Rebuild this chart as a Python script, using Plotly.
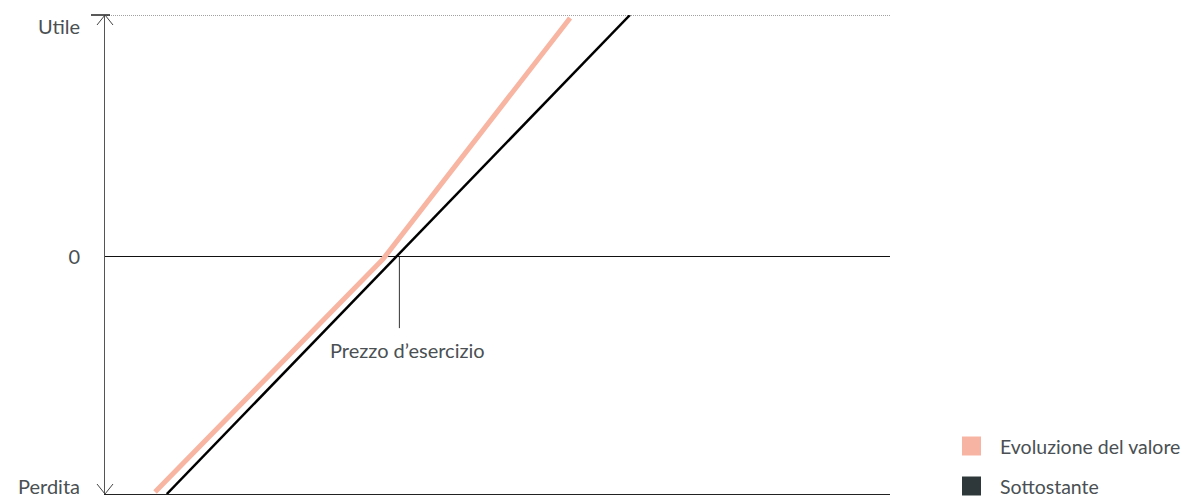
import plotly.graph_objects as go

# schematic payoff data (arbitrary units)
strike = 60
y_min, y_max = -48.3, 49.3

sottostante_x = [12.6, 107.0]
sottostante_y = [-48.3, 49.3]

evoluzione_x = [10.2, 56.7, 94.8]
evoluzione_y = [-47.9, -0.4, 48.7]

y_tick_vals = [-46.9, 0, 46.9]
y_tick_text = ["Perdita", "0", "Utile"]

legend_names = ["Evoluzione del valore", "Sottostante"]
legend_colors = ["#f8b4a3", "#2e383b"]

text_color = "#4a5053"

fig = go.Figure()

fig.add_trace(go.Scatter(
    x=evoluzione_x, y=evoluzione_y, mode="lines",
    line=dict(color="#f7b5a2", width=5), showlegend=False, hoverinfo="skip",
))
fig.add_trace(go.Scatter(
    x=sottostante_x, y=sottostante_y, mode="lines",
    line=dict(color="#000000", width=2.5), showlegend=False, hoverinfo="skip",
))

# legend drawn by hand: square + label, rows stacked from the bottom
for i, (name, col) in enumerate(zip(legend_names, legend_colors)):
    row_y = 48 - 40 * i  # pixel offset of the row centre above the x axis
    fig.add_shape(type="rect", xref="paper", yref="paper",
                  xsizemode="pixel", ysizemode="pixel", xanchor=1, yanchor=0,
                  x0=72, x1=91, y0=row_y - 9.5, y1=row_y + 9.5,
                  fillcolor=col, line=dict(width=0))
    fig.add_annotation(xref="paper", yref="paper", x=1, y=0, xshift=108, yshift=row_y,
                       text=name, showarrow=False, xanchor="left", yanchor="middle",
                       font=dict(size=19.5, color=text_color))

# strike marker
fig.add_shape(type="line", x0=strike, x1=strike, y0=0, y1=-14.5,
              line=dict(color="#333333", width=1))
fig.add_annotation(x=strike, y=-19, text="Prezzo d’esercizio", showarrow=False,
                   xanchor="center", yanchor="middle", xshift=8,
                   font=dict(size=20, color=text_color))

# top dotted line
fig.add_shape(type="line", xref="paper", x0=0, x1=1, y0=y_max, y1=y_max,
              line=dict(color="#444444", width=1, dash="1px,1px"))
# small solid cap at top of the axis
fig.add_shape(type="path", xref="paper", yref="paper",
              xsizemode="pixel", ysizemode="pixel",
              xanchor=0, yanchor=1, path="M -14,0 L 5,0",
              line=dict(color="#222222", width=1.5))
# arrow heads on the y axis
fig.add_shape(type="path", xref="paper", yref="paper",
              xsizemode="pixel", ysizemode="pixel",
              xanchor=0, yanchor=1, path="M -8,-10 L 0,0 L 8,-10",
              line=dict(color="#444444", width=1))
fig.add_shape(type="path", xref="paper", yref="paper",
              xsizemode="pixel", ysizemode="pixel",
              xanchor=0, yanchor=0, path="M -8,10 L 0,0 L 8,10",
              line=dict(color="#444444", width=1))

fig.update_layout(
    width=1189, height=497,
    margin=dict(l=105, r=299, t=15, b=3, autoexpand=False),
    paper_bgcolor="white", plot_bgcolor="white",
    font=dict(family="Lato, sans-serif", size=20, color=text_color),
    showlegend=False,
    xaxis=dict(range=[0, 160], showgrid=False, zeroline=False, showticklabels=False,
               showline=True, linecolor="#222222", linewidth=1, ticks="",
               automargin=False),
    yaxis=dict(range=[y_min, y_max], showgrid=False, zeroline=True,
               zerolinecolor="#111111", zerolinewidth=1,
               showline=True, linecolor="#555555", linewidth=1,
               tickvals=y_tick_vals, ticktext=y_tick_text, ticks="",
               ticklabelstandoff=20, ticklabeloverflow="allow",
               tickfont=dict(size=20, color=text_color),
               automargin=False),
)

fig.write_html("out.html", config={"displayModeBar": False},
               post_script="document.body.style.margin='0';")
